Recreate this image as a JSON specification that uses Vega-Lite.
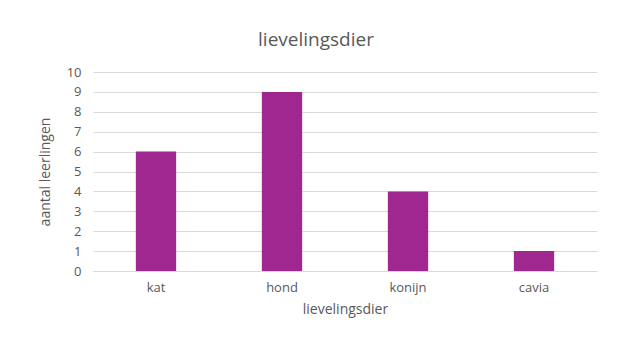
{
  "$schema": "https://vega.github.io/schema/vega-lite/v6.json",
  "width": 504,
  "height": 199,
  "autosize": {"type": "none"},
  "padding": {"left": 93, "top": 72, "right": 40, "bottom": 92},
  "background": "white",
  "title": {"text": "lievelingsdier", "fontSize": 19, "font": "Open Sans", "fontWeight": "normal", "color": "#595959", "anchor": "middle", "dx": -29, "offset": 16},
  "data": {"values": [
    {"dier": "kat", "aantal": 6},
    {"dier": "hond", "aantal": 9},
    {"dier": "konijn", "aantal": 4},
    {"dier": "cavia", "aantal": 1}
  ]},
  "mark": {"type": "bar", "color": "#A0278F"},
  "encoding": {
    "x": {"field": "dier", "type": "nominal", "sort": null, "title": "lievelingsdier",
      "scale": {"paddingInner": 0.68, "paddingOuter": 0.34},
      "axis": {"labelAngle": 0, "domainColor": "#d9d9d9", "ticks": false, "labelFont": "Open Sans", "labelFontSize": 13, "labelColor": "#595959", "labelPadding": 10, "titleFont": "Open Sans", "titleFontSize": 14, "titleFontWeight": "normal", "titleColor": "#595959", "titlePadding": 8}},
    "y": {"field": "aantal", "type": "quantitative", "title": "aantal leerlingen",
      "scale": {"domain": [0, 10]},
      "axis": {"values": [0,1,2,3,4,5,6,7,8,9,10], "domain": false, "ticks": false, "gridColor": "#d9d9d9", "labelFont": "Open Sans", "labelFontSize": 13, "labelColor": "#595959", "labelPadding": 12, "titleFont": "Open Sans", "titleFontSize": 14, "titleFontWeight": "normal", "titleColor": "#595959", "titlePadding": 14}}
  },
  "config": {"view": {"stroke": null}}
}
